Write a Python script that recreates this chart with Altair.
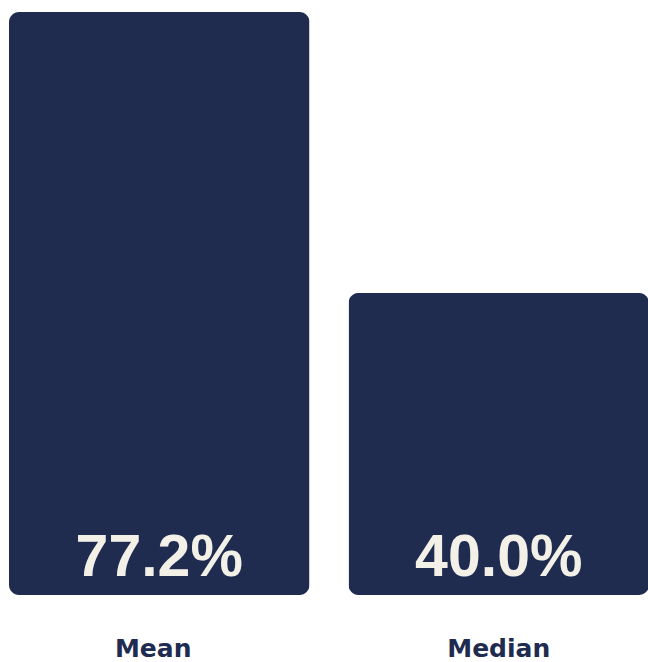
import altair as alt
import pandas as pd

categories = ["Mean", "Median"]
values = [77.2, 40.0]
labels = ["77.2%", "40.0%"]

df = pd.DataFrame({"cat": categories, "val": values, "label": labels, "zero": [0, 0]})

navy = "#202b50"
cream = "#f3f0e8"

x = alt.X("cat:N", sort=categories, title=None,
          scale=alt.Scale(range=[9, 649], paddingInner=0.115, paddingOuter=0),
          axis=alt.Axis(domain=False, ticks=False, labelAngle=0, labelFontSize=25,
                        labelFont="DejaVu Sans", labelFontWeight="bold", labelColor=navy,
                        labelPadding=41, grid=False,
                        labelOffset=alt.ExprRef("datum.value === 'Mean' ? -6 : 0")))

bars = alt.Chart(df).mark_bar(cornerRadius=10, color=navy).encode(
    x=x,
    y=alt.Y("val:Q", title=None, scale=alt.Scale(domain=[0, 78.8], nice=False, zero=True),
            axis=None),
)

text = alt.Chart(df).mark_text(font="Liberation Sans", fontWeight="bold", fontSize=59,
                               color=cream, baseline="alphabetic", dy=-19).encode(
    x=alt.X("cat:N", sort=categories),
    y=alt.Y("zero:Q", axis=None),
    text="label:N",
)

chart = (bars + text).properties(
    width=648, height=595,
    background="white",
    padding={"left": 0, "top": 0, "right": 0, "bottom": 67},
    autosize=alt.AutoSizeParams(type="none")
).configure_view(stroke="transparent", strokeWidth=0)

chart.save("out.html", embed_options={"renderer": "svg", "actions": False})
